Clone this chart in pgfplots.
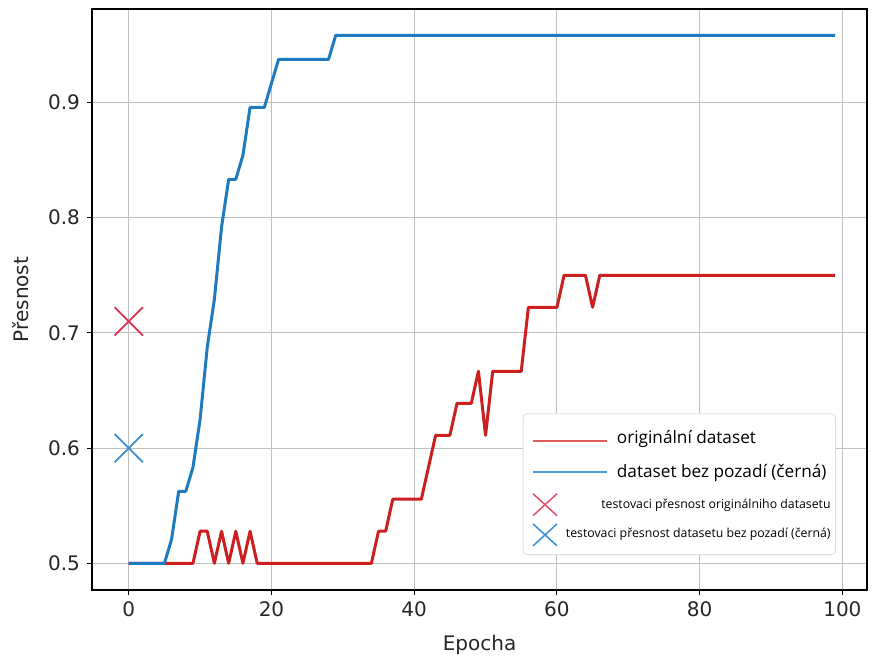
\documentclass[border=0pt]{standalone}
\usepackage{fontspec}
\setmainfont{DejaVu Sans}
\newfontfamily\legfont{Open Sans}
\usepackage{pgfplots}
\usepackage{pgfplotstable}
\pgfplotsset{compat=1.18}

\definecolor{cblue}{HTML}{1F7BBF}
\definecolor{cred}{HTML}{CC2020}
\definecolor{xred}{HTML}{D8304F}
\definecolor{xblue}{HTML}{3A8FD4}
\definecolor{lred}{HTML}{E05C5C}
\definecolor{lblue}{HTML}{4A9CDA}
\definecolor{lxred}{HTML}{E0506A}

\pgfplotstableread{
ep red blue
0 0.5 0.5
1 0.5 0.5
2 0.5 0.5
3 0.5 0.5
4 0.5 0.5
5 0.5 0.5
6 0.5 0.5208
7 0.5 0.5625
8 0.5 0.5625
9 0.5 0.5833
10 0.5278 0.625
11 0.5278 0.6875
12 0.5 0.7292
13 0.5278 0.7917
14 0.5 0.8333
15 0.5278 0.8333
16 0.5 0.8542
17 0.5278 0.8958
18 0.5 0.8958
19 0.5 0.8958
20 0.5 0.9167
21 0.5 0.9375
22 0.5 0.9375
23 0.5 0.9375
24 0.5 0.9375
25 0.5 0.9375
26 0.5 0.9375
27 0.5 0.9375
28 0.5 0.9375
29 0.5 0.9583
30 0.5 0.9583
31 0.5 0.9583
32 0.5 0.9583
33 0.5 0.9583
34 0.5 0.9583
35 0.5278 0.9583
36 0.5278 0.9583
37 0.5556 0.9583
38 0.5556 0.9583
39 0.5556 0.9583
40 0.5556 0.9583
41 0.5556 0.9583
42 0.5833 0.9583
43 0.6111 0.9583
44 0.6111 0.9583
45 0.6111 0.9583
46 0.6389 0.9583
47 0.6389 0.9583
48 0.6389 0.9583
49 0.6667 0.9583
50 0.6111 0.9583
51 0.6667 0.9583
52 0.6667 0.9583
53 0.6667 0.9583
54 0.6667 0.9583
55 0.6667 0.9583
56 0.7222 0.9583
57 0.7222 0.9583
58 0.7222 0.9583
59 0.7222 0.9583
60 0.7222 0.9583
61 0.75 0.9583
62 0.75 0.9583
63 0.75 0.9583
64 0.75 0.9583
65 0.7222 0.9583
66 0.75 0.9583
67 0.75 0.9583
68 0.75 0.9583
69 0.75 0.9583
70 0.75 0.9583
71 0.75 0.9583
72 0.75 0.9583
73 0.75 0.9583
74 0.75 0.9583
75 0.75 0.9583
76 0.75 0.9583
77 0.75 0.9583
78 0.75 0.9583
79 0.75 0.9583
80 0.75 0.9583
81 0.75 0.9583
82 0.75 0.9583
83 0.75 0.9583
84 0.75 0.9583
85 0.75 0.9583
86 0.75 0.9583
87 0.75 0.9583
88 0.75 0.9583
89 0.75 0.9583
90 0.75 0.9583
91 0.75 0.9583
92 0.75 0.9583
93 0.75 0.9583
94 0.75 0.9583
95 0.75 0.9583
96 0.75 0.9583
97 0.75 0.9583
98 0.75 0.9583
99 0.75 0.9583
}\datatable

\newlength\wfour

\begin{document}
\settowidth\wfour{\legfont\fontsize{6.15}{7}\selectfont testovaci přesnost datasetu bez pozadí (černá)}%
\begin{tikzpicture}
\path[use as bounding box] (-46pt,-33.5pt) rectangle (391pt,295pt);
\begin{axis}[
  at={(0,0)}, anchor=south west,
  width=387.5pt, height=290.5pt, scale only axis,
  xmin=-5.15, xmax=103.45, ymin=0.4768, ymax=0.9812,
  xtick={0,20,40,60,80,100}, ytick={0.5,0.6,0.7,0.8,0.9},
  yticklabel style={/pgf/number format/.cd, fixed, fixed zerofill, precision=1},
  /pgf/number format/assume math mode=true,
  tick label style={font=\fontsize{10}{12}\selectfont, text=black!85},
  label style={font=\fontsize{10}{12}\selectfont, text=black!85},
  xlabel={Epocha}, ylabel={Přesnost},
  xlabel style={at={(axis description cs:0.5,-0.0947)}, anchor=center},
  ylabel style={at={(axis description cs:-0.0916,0.5)}, anchor=center},
  grid=major, grid style={color=gray!50, line width=0.55pt},
  axis line style={line width=0.6pt},
  tick align=outside, tick pos=left, major tick length=2.5pt,
  major tick style={line width=0.5pt, black},
  legend cell align=left,
  legend style={at={(0.96,0.0602)}, anchor=south east, draw=gray!25,
    rounded corners=2pt, fill=white, font=\legfont, row sep=0pt,
    inner xsep=4.5pt, inner ysep=4pt},
]
\addplot[cred, line width=1.5pt, line join=round,
  legend image code/.code={\draw[lred, line width=0.9pt] (0pt,-2.2pt) -- (37pt,-2.2pt); \path[draw=none,fill=none] (0pt,-6pt) rectangle (37pt,6pt);}]
  table[x=ep, y=red] {\datatable};
\addlegendentry{\fontsize{8.6}{10}\selectfont\rule[-5pt]{0pt}{14pt}\hspace*{2.5pt}originální dataset}
\addplot[cblue, line width=1.5pt, line join=round,
  legend image code/.code={\draw[lblue, line width=0.9pt] (0pt,-2.2pt) -- (37pt,-2.2pt); \path[draw=none,fill=none] (0pt,-6pt) rectangle (37pt,6pt);}]
  table[x=ep, y=blue] {\datatable};
\addlegendentry{\fontsize{8.6}{10}\selectfont\rule[-5pt]{0pt}{16.5pt}\hspace*{2.5pt}dataset bez pozadí (černá)\hspace*{-4pt}}
\addplot[only marks, mark=x, mark size=10pt, xred, mark options={line width=0.9pt},
  legend image code/.code={\draw[lxred, line width=0.75pt] (0pt,-7.7pt) -- (12pt,3.3pt) (0pt,3.3pt) -- (12pt,-7.7pt); \path[draw=none,fill=none] (0pt,-6pt) rectangle (37pt,6pt);}]
  coordinates {(0,0.71)};
\addlegendentry{\fontsize{6.15}{7}\selectfont\rule[-5pt]{0pt}{15pt}\hspace*{-23pt}\makebox[\wfour][r]{testovaci přesnost originálniho datasetu}\hspace*{-4pt}}
\addplot[only marks, mark=x, mark size=10pt, xblue, mark options={line width=0.9pt},
  legend image code/.code={\draw[xblue, line width=0.75pt] (0pt,-7.7pt) -- (12pt,3.3pt) (0pt,3.3pt) -- (12pt,-7.7pt); \path[draw=none,fill=none] (0pt,-6pt) rectangle (37pt,6pt);}]
  coordinates {(0,0.6)};
\addlegendentry{\fontsize{6.15}{7}\selectfont\rule[-6.5pt]{0pt}{15pt}\hspace*{-23pt}testovaci přesnost datasetu bez pozadí (černá)\hspace*{-4pt}}
\end{axis}
\end{tikzpicture}
\end{document}
